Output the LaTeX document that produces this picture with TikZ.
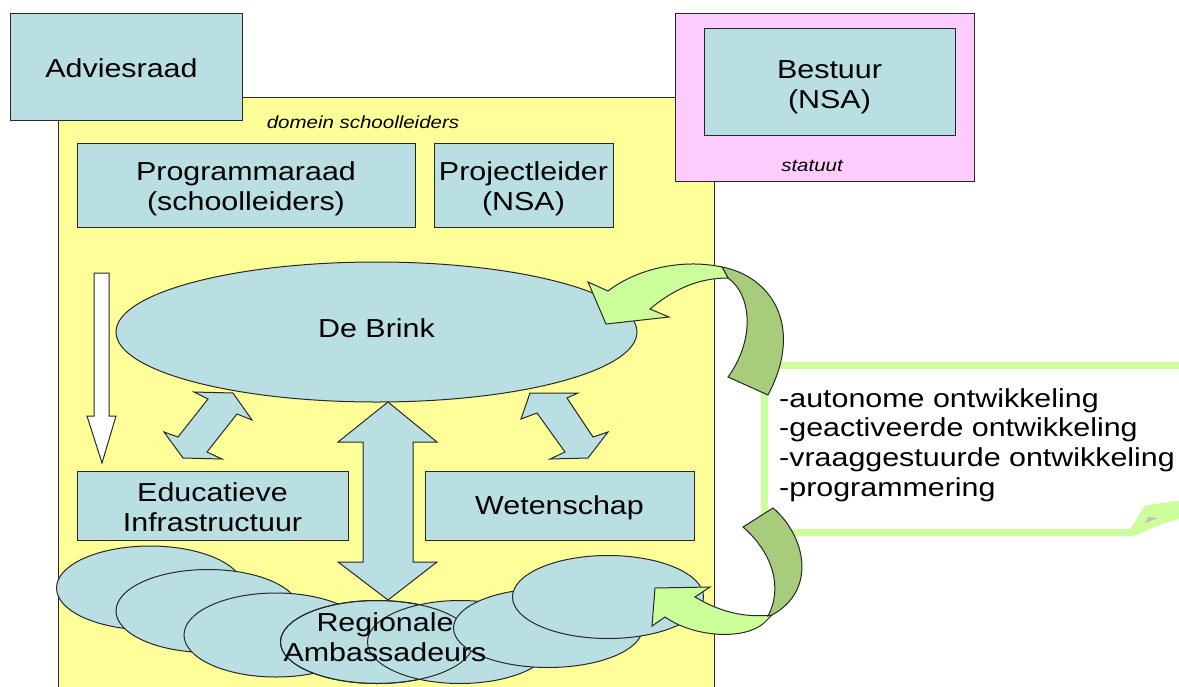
\documentclass[tikz,border=0pt]{standalone}
\usepackage{fontspec}
\setmainfont{Liberation Sans}[FakeStretch=1.17]
\usetikzlibrary{shapes.geometric}
\definecolor{lblue}{RGB}{185,223,227}
\definecolor{lyellow}{RGB}{255,255,153}
\definecolor{lpink}{RGB}{255,204,255}
\definecolor{lgreen}{RGB}{204,255,153}
\definecolor{dgreen}{RGB}{166,204,124}
\definecolor{edge}{RGB}{40,40,40}
\tikzset{
  ln/.style={draw=edge, line width=1pt, line join=miter},
  box/.style={ln, fill=lblue, rectangle, inner sep=0pt},
  ell/.style={ln, fill=lblue, ellipse, inner sep=0pt},
  lbl/.style={font=\fontsize{26}{29.5}\selectfont, align=center, inner sep=0pt},
  small/.style={font=\fontsize{17.5}{20}\selectfont\itshape, inner sep=0pt},
}
\begin{document}
\begin{tikzpicture}[x=1pt,y=-1pt]
\useasboundingbox (0,0) rectangle (1179,686);
% domain
\node[ln, fill=lyellow, rectangle, minimum width=656pt, minimum height=620pt, anchor=north west, inner sep=0pt] (dom) at (58,97) {};
\node[box, minimum width=232pt, minimum height=107pt] (adv) at (126,66.5) {};
\node[lbl] (advlbl) at (121.5,68.5) {Adviesraad};
\node[ln, fill=lpink, rectangle, minimum width=299pt, minimum height=168pt, inner sep=0pt] (stat) at (824.5,97) {};
\node[box, minimum width=251pt, minimum height=107pt] (bestuur) at (829.5,81.5) {};
\node[lbl] (bestuurlbl) at (829.5,87) {Bestuur\\(NSA)};
\node[small] (statlbl) at (812,166) {statuut};
\node[small] (domlbl) at (363,122) {domein schoolleiders};
\node[box, minimum width=338pt, minimum height=84pt] (prog) at (246,185) {};
\node[lbl] (proglbl) at (246,189) {Programmaraad\\(schoolleiders)};
\node[box, minimum width=179pt, minimum height=84pt] (proj) at (523.5,185) {};
\node[lbl] (projlbl) at (523.5,189) {Projectleider\\(NSA)};
\node[ell, minimum width=521pt, minimum height=140pt] (brink) at (376.5,332) {};
\node[lbl] (brinklbl) at (376.5,328) {De Brink};
\node[box, minimum width=271pt, minimum height=69pt] (edu) at (212.5,505.5) {};
\node[lbl] (edulbl) at (212.5,507) {Educatieve\\Infrastructuur};
\node[box, minimum width=269pt, minimum height=69pt] (wet) at (559.5,505.5) {};
\node[lbl] (wetlbl) at (559.5,507.5) {Wetenschap};
% white arrow
\draw[ln, fill=white] (94,273) -- (109,273) -- (109,416) -- (116,416) -- (102,463) -- (87,416) -- (94,416) -- cycle;
% diagonal double arrows
\draw[ln, fill=lblue] (194,392) -- (233,393) -- (252,420) -- (237,414) -- (207,452) -- (222,459) -- (183,458) -- (164,432) -- (178,437) -- (208,399) -- cycle;
\draw[ln, fill=lblue] (530,393) -- (578,393) -- (567,398) -- (593,437) -- (608,432) -- (588,458) -- (550,459) -- (565,452) -- (537,413) -- (521,419) -- cycle;
% central double arrow
\draw[ln, fill=lblue] (388,402) -- (437,442) -- (413,442) -- (413,562) -- (437,562) -- (388,600) -- (338,562) -- (363,562) -- (363,442) -- (338,442) -- cycle;
% regional ellipses
\node[ell, minimum width=187pt, minimum height=84pt] (r1) at (150,588) {};
\node[ell, minimum width=184pt, minimum height=83pt] (r2) at (208,611) {};
\node[ell, minimum width=184pt, minimum height=84pt] (r3) at (276,635) {};
\node[ell, minimum width=193pt, minimum height=83pt] (r4) at (377,642) {};
\node[ell, minimum width=185pt, minimum height=83pt] (r5) at (460,642) {};
\draw[ln] (377,642) ellipse [x radius=96.5pt, y radius=41.5pt];
\node[ell, minimum width=189pt, minimum height=79pt] (r6) at (548,628) {};
\node[ell, minimum width=191pt, minimum height=83pt] (r7) at (608,597) {};
\node[lbl] (reg) at (385,637) {Regionale\\Ambassadeurs};
% callout
\draw[lgreen, line width=7pt, line join=miter] (1190,365) -- (764,365) -- (764,532) -- (1133,532);
\fill[lgreen] (1127,535.5) -- (1144,506) .. controls (1158,503) and (1170,502) .. (1185,500) -- (1185,517) .. controls (1170,521) and (1150,528) .. (1136,535.5) -- cycle;
\fill[black!25] (1145,523) -- (1148,517) -- (1158,518) -- cycle;
\node[font=\fontsize{26}{29.7}\selectfont, align=left, anchor=west, inner sep=0pt] (list) at (779,445) {-autonome ontwikkeling\\-geactiveerde ontwikkeling\\-vraaggestuurde ontwikkeling\\-programmering};
% top curved arrow
\draw[ln, fill=dgreen] (722,267) .. controls (770,276) and (805,325) .. (768,395) -- (728,377) .. controls (755,340) and (752,295) .. (728,278) -- cycle;
\draw[ln, fill=lgreen] (588,282) -- (606,324) -- (669,317) -- (650,309) .. controls (675,288) and (700,278) .. (728,278) -- (722,267) .. controls (680,258) and (635,270) .. (608,291) -- cycle;
% bottom curved arrow
\draw[ln, fill=lgreen] (655,588) -- (710,587) -- (695,597) .. controls (720,612) and (745,618) .. (772,615) -- (764,623) .. controls (745,640) and (695,638) .. (665,617) -- (652,626) -- cycle;
\draw[ln, fill=dgreen] (743,527) -- (773,508) .. controls (805,535) and (818,590) .. (772,615) -- (768,616) .. controls (782,590) and (775,555) .. (743,527) -- cycle;
\end{tikzpicture}
\end{document}
